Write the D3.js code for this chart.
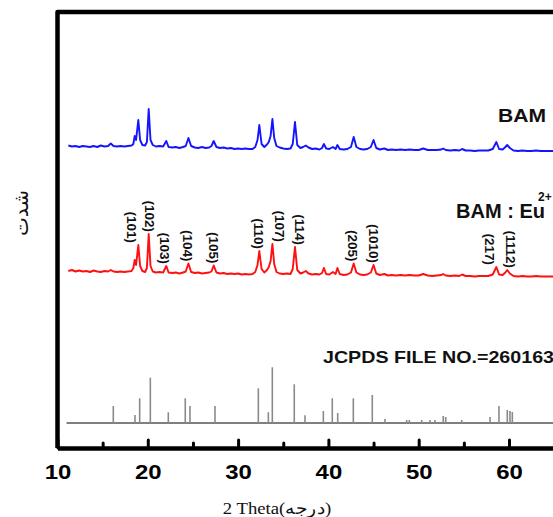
<!DOCTYPE html>
<html>
<head>
<meta charset="utf-8">
<script src="https://cdn.jsdelivr.net/npm/d3@7"></script>
<style>
  body { margin: 0; background: #fff; }
  svg { display: block; }
</style>
</head>
<body>
<svg width="553" height="517"></svg>
<script>

// 2 theta grid shared by both measured patterns
const thetaGrid = [
  11.2, 11.6, 12.0, 12.4, 12.8, 13.2, 13.6, 14.0, 14.4, 14.8,
  15.2, 15.6, 15.9, 16.2, 16.6, 17.0, 17.4, 17.8, 18.2, 18.4,
  18.55, 18.7, 18.95, 19.15, 19.4, 19.7, 19.9, 20.1, 20.3, 20.55,
  20.9, 21.3, 21.7, 22.05, 22.3, 22.7, 23.1, 23.5, 23.9, 24.2,
  24.5, 24.8, 25.2, 25.6, 26.0, 26.4, 26.8, 27.05, 27.3, 27.6,
  28.0, 28.4, 28.8, 29.2, 29.6, 30.0, 30.4, 30.8, 31.2, 31.6,
  31.9, 32.15, 32.35, 32.6, 32.9, 33.2, 33.4, 33.6, 33.8, 34.0,
  34.25, 34.6, 35.0, 35.4, 35.8, 36.05, 36.3, 36.55, 36.9, 37.2,
  37.5, 37.8, 38.2, 38.6, 39.0, 39.3, 39.5, 39.75, 40.1, 40.5,
  40.8, 41.0, 41.25, 41.7, 42.1, 42.5, 42.8, 43.1, 43.5, 43.9,
  44.3, 44.7, 45.0, 45.3, 45.7, 46.2, 46.6, 47.0, 47.5, 48.0,
  48.5, 49.0, 49.5, 50.0, 50.5, 51.0, 51.5, 52.0, 52.5, 52.7,
  53.0, 53.5, 54.0, 54.5, 54.8, 55.2, 55.7, 56.2, 56.7, 57.2,
  57.7, 58.2, 58.6, 58.9, 59.3, 59.6, 59.8, 60.1, 60.5, 61.0,
  61.5, 62.0, 62.5, 63.0, 63.5, 64.0, 64.5, 65.0, 66.0
];

// BAM (blue)
const bamInt = [
  6.5, 5.5, 6, 5, 6, 5.5, 5, 6, 5, 6.5,
  5.5, 6, 8.5, 6, 5.5, 6, 5.5, 6, 6.5, 8,
  16, 12, 32, 12, 7, 6.5, 10, 43, 12, 7,
  5.5, 6, 5.5, 11, 5, 4.5, 5, 4, 5, 6,
  14, 6, 4.5, 4, 5, 4, 4.5, 6, 11, 5,
  4, 4.5, 3.5, 4, 3, 3.5, 3, 3.5, 3, 3,
  5, 12, 27, 8, 5, 7.5, 10, 16, 33, 14,
  6, 4.5, 3.5, 3, 3.5, 8, 30, 7, 4, 5,
  6.5, 4.5, 3, 3.5, 2.5, 4, 8, 3.5, 3, 5,
  3, 7, 3, 2.5, 3, 5, 15, 5, 3, 2.5,
  3, 5, 12, 4, 2.5, 3.5, 2, 2.5, 2, 2.5,
  2, 2.5, 2, 2, 3.5, 2, 2, 2, 2.5, 3.5,
  2, 1.5, 2, 1.5, 3, 1.5, 1.5, 1, 1.5, 1.5,
  1.5, 3, 10, 3, 2.5, 5, 7, 4, 1.5, 1,
  1.5, 1, 1, 1.5, 1, 1, 1, 1, 1
];

// BAM : Eu2+ (red)
const euInt = [
  6, 7, 5.5, 6.5, 5.5, 6, 5, 6.5, 5.5, 5,
  6, 5.5, 7, 5.5, 5, 5.5, 5, 5.5, 6, 9,
  17, 12, 32, 11, 6, 5, 9, 43, 11, 5.5,
  4.5, 5, 4.5, 11, 4.5, 4, 4.5, 3.5, 4.5, 5.5,
  13.5, 5, 4, 4.5, 3.5, 4, 4.5, 5.5, 11.5, 4.5,
  3.5, 4, 3, 3.5, 3, 3.5, 2.5, 3, 2.5, 3,
  5, 12, 26, 8, 4.5, 7, 10, 16, 33, 13,
  5, 3.5, 3, 3.5, 3, 8, 30, 7, 3.5, 4.5,
  6, 3.5, 2.5, 3, 2.5, 4, 9, 3, 2.5, 5,
  3, 9, 3, 2, 2.5, 4.5, 13.5, 4.5, 2.5, 2,
  2.5, 4.5, 12, 3.5, 2, 3, 1.5, 2, 1.5, 2,
  1.5, 2, 1.5, 1.5, 3, 1.5, 1, 1.5, 2, 3,
  1.5, 1, 1.5, 1, 2.5, 1, 1, 0.5, 1, 1,
  1, 2.5, 10, 2.5, 2, 4.5, 7, 3.5, 1, 0.5,
  1, 0.5, 0.5, 1, 0.5, 0.5, 0.5, 0.5, 0.5
];

// JCPDS 26-0163 reference lines
const jcpdsTheta = [16.18, 18.58, 19.1, 20.28, 22.27, 24.15, 24.67, 27.44, 32.24, 33.35,
  33.79, 36.22, 37.41, 39.44, 40.43, 41.03, 42.76, 44.86, 46.27, 48.67,
  48.96, 50.33, 51.25, 51.8, 52.72, 52.99, 54.76, 57.9, 58.89, 59.81, 60.11, 60.37];
const jcpdsInt = [17, 8, 24.7, 45.3, 10.7, 24.7, 17, 17, 34.7, 10.7,
  55.7, 38.7, 7.7, 12, 24.7, 10, 24.7, 28, 4, 3,
  3, 3, 3, 3, 7, 6, 3, 6, 17, 13, 12, 11];
const jcpdsRange = [11, 70];

// Miller indices on the red pattern
const hklNames = ["(101)", "(102)", "(103)", "(104)", "(105)", "(110)", "(107)", "(114)", "(205)", "(1010)", "(217)", "(1112)"];
const hklTheta = [18.2, 20.17, 21.9, 24.4, 27.25, 32.3, 34.55, 36.8, 42.65, 44.97, 57.8, 60.2];
const hklPeak = [18.95, 20.1, 22.05, 24.5, 27.3, 32.35, 33.8, 36.3, 42.8, 45.0, 58.6, 59.8];

const majorTicks = [10, 20, 30, 40, 50, 60];
const minorTicks = [15, 25, 35, 45, 55];

const bamOffset = 296, euOffset = 171, jcpdsOffset = 25;


const svg = d3.select("svg");

const x = d3.scaleLinear().domain([10, 70]).range([57.5, 599.3]);
const y = d3.scaleLinear().domain([0, 436]).range([448, 12]);

const line = d3.line()
  .x(d => x(d[0]))
  .y(d => y(d[1]));

// measured patterns
svg.append("path")
  .datum(thetaGrid.map((t, i) => [t, bamOffset + bamInt[i]]))
  .attr("fill", "none")
  .attr("stroke", "#1414ff")
  .attr("stroke-width", 1.9)
  .attr("stroke-linejoin", "round")
  .attr("d", line);

svg.append("path")
  .datum(thetaGrid.map((t, i) => [t, euOffset + euInt[i]]))
  .attr("fill", "none")
  .attr("stroke", "#ff1010")
  .attr("stroke-width", 1.9)
  .attr("stroke-linejoin", "round")
  .attr("d", line);

// reference sticks
svg.append("path")
  .datum(jcpdsRange.map(t => [t, jcpdsOffset]))
  .attr("stroke", "#555")
  .attr("stroke-width", 1.5)
  .attr("d", line);

svg.selectAll(".stick")
  .data(jcpdsTheta)
  .join("line")
  .attr("class", "stick")
  .attr("x1", d => x(d))
  .attr("x2", d => x(d))
  .attr("y1", y(jcpdsOffset))
  .attr("y2", (d, i) => y(jcpdsOffset + jcpdsInt[i]))
  .attr("stroke", "#8a8a8a")
  .attr("stroke-width", 1.6);

// hkl labels, rotated, ending just above their peak
svg.selectAll(".hkl")
  .data(hklNames)
  .join("text")
  .attr("class", "hkl")
  .attr("transform", (d, i) => {
    const k = thetaGrid.indexOf(hklPeak[i]);
    return `translate(${x(hklTheta[i])},${y(euOffset + euInt[k]) - 2}) rotate(90)`;
  })
  .attr("text-anchor", "end")
  .attr("dominant-baseline", "central")
  .style("font-family", "'Liberation Sans', Arial, sans-serif")
  .style("font-weight", "bold")
  .style("font-size", "13.5px")
  .attr("fill", "#111")
  .text(d => d);

// frame: left and top
svg.append("path")
  .attr("d", `M${x(10)},${y(0)} V${y(436)} H${x(70)}`)
  .attr("fill", "none")
  .attr("stroke", "#000")
  .attr("stroke-width", 4.5)
  .attr("stroke-linejoin", "round");

// bottom axis
const gx = svg.append("g")
  .attr("transform", `translate(0,${y(0)})`)
  .call(d3.axisBottom(x)
    .tickValues(majorTicks)
    .tickSizeInner(-8)
    .tickSizeOuter(0)
    .tickPadding(16)
    .tickFormat(d3.format("d")));

gx.select(".domain").attr("stroke-width", 4.5);
gx.selectAll(".tick line")
  .attr("stroke-width", 3)
  .attr("stroke-linecap", "round");
gx.selectAll(".tick text")
  .attr("transform", "scale(1.14,1)")
  .attr("fill", "#000")
  .style("font-family", "'Liberation Sans', Arial, sans-serif")
  .style("font-weight", "bold")
  .style("font-size", "21px");

const gm = svg.append("g")
  .attr("transform", `translate(0,${y(0)})`)
  .call(d3.axisBottom(x)
    .tickValues(minorTicks)
    .tickSizeInner(-5)
    .tickSizeOuter(0)
    .tickFormat(""));
gm.select(".domain").remove();
gm.selectAll(".tick line")
  .attr("stroke-width", 3)
  .attr("stroke-linecap", "round");

// series names
const bold = "'Liberation Sans', Arial, sans-serif";

svg.append("text")
  .attr("x", 498).attr("y", 121.5)
  .attr("textLength", 48).attr("lengthAdjust", "spacingAndGlyphs")
  .style("font-family", bold).style("font-weight", "bold").style("font-size", "19px")
  .attr("fill", "#111")
  .text("BAM");

svg.append("text")
  .attr("x", 456).attr("y", 218)
  .attr("textLength", 89).attr("lengthAdjust", "spacingAndGlyphs")
  .style("font-family", bold).style("font-weight", "bold").style("font-size", "20px")
  .attr("fill", "#111")
  .text("BAM : Eu");

svg.append("text")
  .attr("x", 538).attr("y", 200.5)
  .style("font-family", bold).style("font-weight", "bold").style("font-size", "12px")
  .attr("fill", "#111")
  .text("2+");

svg.append("text")
  .attr("x", 323).attr("y", 362.5)
  .attr("textLength", 231).attr("lengthAdjust", "spacingAndGlyphs")
  .style("font-family", bold).style("font-weight", "bold").style("font-size", "17px")
  .attr("fill", "#111")
  .text("JCPDS FILE NO.=260163");

// axis titles
svg.append("text")
  .attr("transform", "translate(277,514) scale(1.1,1)")
  .attr("text-anchor", "middle")
  .style("font-family", "'Liberation Serif', 'Times New Roman', 'DejaVu Serif', serif")
  .style("font-size", "17px")
  .attr("fill", "#111")
  .text("2 Theta(درجه)");

svg.append("text")
  .attr("transform", "translate(28,213) rotate(-90)")
  .attr("text-anchor", "middle")
  .style("font-family", "'DejaVu Sans', sans-serif")
  .style("font-size", "20px")
  .attr("fill", "#111")
  .text("شدت");

</script>
</body>
</html>
